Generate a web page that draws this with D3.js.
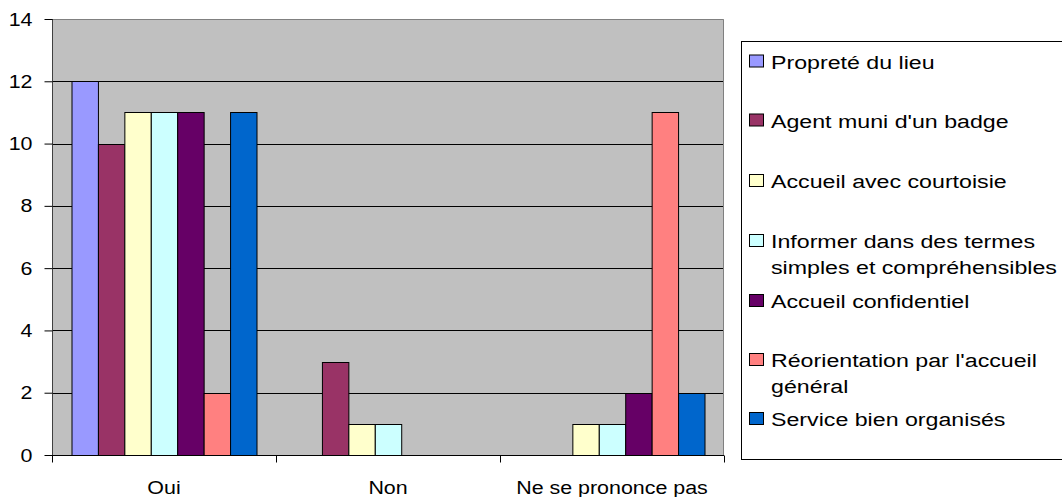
<!DOCTYPE html>
<html>
<head>
<meta charset="utf-8">
<script src="https://cdn.jsdelivr.net/npm/d3@7"></script>
<style>
  html, body { margin: 0; padding: 0; background: #ffffff; }
  svg { display: block; }
  text { font-family: "Liberation Sans", Arial, sans-serif; fill: #000; }
</style>
</head>
<body>
<svg id="chart" width="1062" height="497"></svg>
<script>
// Response categories on the x axis
const categories = ["Oui", "Non", "Ne se prononce pas"];

// Survey items (one bar series each), with their legend text lines
const seriesNames = [
  "Propreté du lieu",
  "Agent muni d'un badge",
  "Accueil avec courtoisie",
  "Informer dans des termes simples et compréhensibles",
  "Accueil confidentiel",
  "Réorientation par l'accueil général",
  "Service bien organisés"
];
const legendLines = [
  ["Propreté du lieu"],
  ["Agent muni d'un badge"],
  ["Accueil avec courtoisie"],
  ["Informer dans des termes", "simples et compréhensibles"],
  ["Accueil confidentiel"],
  ["Réorientation par l'accueil", "général"],
  ["Service bien organisés"]
];
const seriesColors = ["#9999FF", "#993366", "#FFFFCC", "#CCFFFF", "#660066", "#FF8080", "#0066CC"];

// Counts per series for Oui / Non / Ne se prononce pas
const proprete      = [12, 0, 0];
const agentBadge    = [10, 3, 0];
const courtoisie    = [11, 1, 1];
const informer      = [11, 1, 1];
const confidentiel  = [11, 0, 2];
const reorientation = [2, 0, 11];
const serviceOrg    = [11, 0, 2];
const seriesValues = [proprete, agentBadge, courtoisie, informer, confidentiel, reorientation, serviceOrg];

// Y axis ticks
const yTicks = [0, 2, 4, 6, 8, 10, 12, 14];

const svg = d3.select("#chart");
const plot = { left: 52, right: 724, top: 19, bottom: 455 };
const SX = 1.19;      // horizontal stretch of axis text
const FS = 18;        // axis font size
const LSX = 1.22;     // horizontal stretch of legend text
const LFS = 19;       // legend font size

const y = d3.scaleLinear().domain([0, 14]).range([plot.bottom, plot.top]);
const x0 = d3.scaleBand().domain(categories).range([plot.left, plot.right]).padding(0);
const inner = 19.5;
const x1 = d3.scaleBand().domain(d3.range(seriesNames.length))
  .range([inner, x0.bandwidth() - inner]).padding(0);

// Plot background
svg.append("rect")
  .attr("x", plot.left).attr("y", plot.top)
  .attr("width", plot.right - plot.left).attr("height", plot.bottom - plot.top)
  .attr("fill", "#C0C0C0");

// Gridlines
svg.append("g").selectAll("line")
  .data(yTicks.filter(t => t > 0 && t < 14))
  .join("line")
  .attr("x1", plot.left).attr("x2", plot.right)
  .attr("y1", d => Math.round(y(d)) + 0.5).attr("y2", d => Math.round(y(d)) + 0.5)
  .attr("stroke", "#000").attr("stroke-width", 1);

// Plot border (top and right)
svg.append("path")
  .attr("d", `M${plot.left},${plot.top + 0.5}H${plot.right - 0.5}V${plot.bottom}`)
  .attr("fill", "none").attr("stroke", "#808080").attr("stroke-width", 1);

// Bars
const groups = svg.append("g").selectAll("g")
  .data(categories)
  .join("g")
  .attr("transform", c => `translate(${x0(c)},0)`);

groups.selectAll("rect")
  .data((c, ci) => seriesValues.map((vals, si) => ({ si, v: vals[ci] })).filter(d => d.v > 0))
  .join("rect")
  .attr("x", d => x1(d.si) + 0.5)
  .attr("y", d => Math.round(y(d.v)) + 0.5)
  .attr("width", x1.bandwidth())
  .attr("height", d => Math.round(y(0)) - Math.round(y(d.v)))
  .attr("fill", d => seriesColors[d.si])
  .attr("stroke", "#000").attr("stroke-width", 1);

// Y axis
const yAxis = d3.axisLeft(y).tickValues(yTicks).tickSize(8).tickPadding(0).tickFormat(d3.format("d"));
const yg = svg.append("g").attr("transform", `translate(${plot.left + 0.5},0)`).call(yAxis);
yg.select(".domain").attr("stroke", "#404040").attr("d", `M0,${plot.top}V${plot.bottom + 0.5}`);
yg.selectAll(".tick line").attr("stroke", "#000");
yg.selectAll(".tick text").remove();
yg.selectAll(".tick").append("text")
  .attr("transform", `translate(-20,6) scale(${SX},1)`)
  .attr("text-anchor", "end")
  .style("font-size", FS + "px")
  .text(d => d);

// X axis
const xg = svg.append("g").attr("transform", `translate(0,${plot.bottom + 0.5})`);
xg.append("line").attr("x1", plot.left).attr("x2", plot.right)
  .attr("stroke", "#000");
xg.selectAll("line.tick")
  .data(d3.range(categories.length + 1))
  .join("line").attr("class", "tick")
  .attr("x1", i => Math.round(plot.left + i * x0.bandwidth()) + 0.5)
  .attr("x2", i => Math.round(plot.left + i * x0.bandwidth()) + 0.5)
  .attr("y1", 0).attr("y2", 7)
  .attr("stroke", "#000");
xg.selectAll("text")
  .data(categories)
  .join("text")
  .attr("transform", c => `translate(${x0(c) + x0.bandwidth() / 2},38.5) scale(${SX},1)`)
  .attr("text-anchor", "middle")
  .style("font-size", FS + "px")
  .text(c => c);

// Legend
const legend = svg.append("g");
legend.append("rect")
  .attr("x", 741.5).attr("y", 41.5)
  .attr("width", 330).attr("height", 418)
  .attr("fill", "#fff").attr("stroke", "#000").attr("stroke-width", 1);

const legendY = [61.5, 120.5, 181, 241, 301, 360, 419];
const items = legend.selectAll("g.item")
  .data(seriesNames)
  .join("g").attr("class", "item")
  .attr("transform", (d, i) => `translate(0,${legendY[i]})`);
items.append("rect")
  .attr("x", 749.5).attr("y", -6.5)
  .attr("width", 14).attr("height", 12)
  .attr("fill", (d, i) => seriesColors[i])
  .attr("stroke", "#000").attr("stroke-width", 1);
items.each(function (d, i) {
  const g = d3.select(this);
  legendLines[i].forEach((line, k) => {
    g.append("text")
      .attr("transform", `translate(771,${7 + k * 25.5}) scale(${LSX},1)`)
      .style("font-size", LFS + "px")
      .text(line);
  });
});
</script>
</body>
</html>
